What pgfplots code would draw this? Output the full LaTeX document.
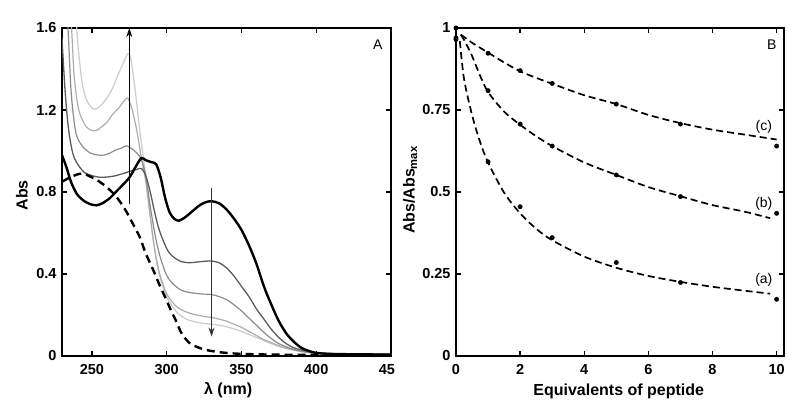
\documentclass[border=0pt]{standalone}
\usepackage{fontspec}
\setmainfont{Liberation Sans}
\usepackage{pgfplots}
\pgfplotsset{compat=1.18}
\usetikzlibrary{arrows.meta}
\definecolor{gA}{gray}{0.36}
\definecolor{gB}{gray}{0.55}
\definecolor{gC}{gray}{0.68}
\definecolor{gD}{gray}{0.80}
\begin{document}
\begin{tikzpicture}
\path (0pt,0pt) rectangle (800pt,417pt);
\pgfplotsset{
  myaxis/.style={
    scale only axis,
    axis line style={line width=1.9pt},
    tick align=inside, major tick length=5pt,
    tick style={line width=1.3pt, black},
    /pgf/number format/assume math mode=true,
    ticklabel style={font=\bfseries\fontsize{14.5}{15}\selectfont},
    xticklabel style={yshift=-5pt},
    yticklabel style={xshift=-2pt},
    label style={font=\bfseries\fontsize{16}{17}\selectfont},
  }
}
\begin{axis}[myaxis, at={(62pt,61pt)}, anchor=south west, width=329pt, height=328pt,
  xmin=230, xmax=450, ymin=0, ymax=1.6,
  xtick={250,300,350,400,450}, xticklabels={250,300,350,400,45\phantom{0}},
  ytick={0,0.4,0.8,1.2,1.6}, yticklabels={0,0.4,0.8,1.2,1.6},
  xlabel={λ (nm)}, ylabel={Abs},
  xlabel style={at={(axis description cs:0.505,-0.104)}, anchor=center},
  ylabel style={at={(axis description cs:-0.1216,0.49)}, anchor=center},
  clip=true]
% lightest gray
\addplot[gD, line width=1.2pt, smooth] coordinates {
(237,2.0) (239.8,1.6) (242,1.42) (244,1.31) (247,1.24) (251,1.205) (254,1.21) (257,1.23) (261,1.27) (264,1.31) (268,1.38) (271,1.43) (274,1.475) (276,1.45) (278,1.35) (280,1.23) (282,1.10) (284,0.99) (287,0.82) (290,0.62) (293,0.47) (296,0.37) (300,0.29) (304,0.24) (308,0.205) (313,0.18) (318,0.168) (324,0.16) (330,0.155) (335,0.15) (340,0.143) (345,0.132) (350,0.12) (355,0.105) (360,0.09) (365,0.075) (370,0.06) (375,0.047) (380,0.036) (385,0.028) (390,0.021) (395,0.016) (400,0.013) (420,0.01) (450,0.008)};
% light gray
\addplot[gC, line width=1.2pt, smooth] coordinates {
(234,1.9) (236.4,1.6) (238,1.38) (240,1.25) (242,1.18) (246,1.12) (250,1.10) (253,1.10) (256,1.115) (260,1.14) (264,1.18) (268,1.21) (271,1.24) (274,1.257) (277,1.2) (280,1.10) (283,0.97) (286,0.85) (289,0.68) (292,0.52) (295,0.41) (299,0.32) (302,0.28) (306,0.245) (310,0.225) (315,0.21) (320,0.2) (325,0.193) (330,0.188) (335,0.18) (340,0.17) (345,0.155) (350,0.14) (355,0.12) (360,0.10) (365,0.08) (370,0.065) (375,0.05) (380,0.038) (385,0.03) (390,0.022) (395,0.017) (400,0.013) (420,0.01) (450,0.008)};
% medium gray
\addplot[gB, line width=1.2pt, smooth] coordinates {
(232,1.85) (234,1.6) (236,1.3) (238,1.15) (240,1.07) (244,1.02) (249,0.99) (254,0.98) (258,0.98) (262,0.99) (266,1.005) (270,1.015) (273,1.025) (276,1.015) (280,0.99) (283,0.96) (286,0.88) (289,0.73) (292,0.60) (295,0.50) (299,0.41) (302,0.37) (306,0.34) (310,0.32) (315,0.31) (320,0.305) (325,0.302) (330,0.30) (335,0.29) (340,0.275) (345,0.25) (350,0.22) (355,0.185) (360,0.15) (365,0.115) (370,0.085) (375,0.06) (380,0.045) (385,0.032) (390,0.024) (395,0.018) (400,0.014) (420,0.01) (450,0.008)};
% dark gray
\addplot[gA, line width=1.3pt, smooth] coordinates {
(230,1.55) (232,1.30) (234,1.13) (236,1.03) (238,0.97) (241,0.93) (245,0.895) (250,0.88) (255,0.872) (260,0.873) (265,0.878) (270,0.888) (275,0.90) (280,0.91) (283,0.915) (286,0.88) (289,0.80) (292,0.70) (295,0.615) (299,0.54) (302,0.50) (306,0.475) (310,0.46) (315,0.455) (320,0.458) (325,0.462) (330,0.463) (335,0.455) (340,0.43) (345,0.39) (350,0.34) (355,0.29) (360,0.23) (365,0.18) (370,0.13) (375,0.09) (380,0.06) (385,0.04) (390,0.03) (395,0.022) (400,0.015) (420,0.01) (450,0.008)};
% thick black
\addplot[black, line width=2.4pt, smooth] coordinates {
(230,0.98) (233,0.92) (236,0.85) (240,0.79) (245,0.755) (250,0.738) (253,0.735) (257,0.745) (262,0.77) (266,0.80) (270,0.83) (275,0.87) (279,0.92) (283,0.965) (286,0.955) (290,0.945) (293,0.935) (296,0.87) (299,0.77) (302,0.70) (305,0.67) (308,0.66) (312,0.675) (317,0.705) (322,0.735) (326,0.75) (330,0.755) (335,0.745) (340,0.715) (345,0.67) (350,0.615) (355,0.54) (360,0.45) (365,0.34) (370,0.25) (375,0.17) (380,0.11) (385,0.07) (390,0.04) (395,0.025) (400,0.015) (410,0.01) (430,0.008) (450,0.007)};
% dashed black
\addplot[black, line width=2.4pt, dash pattern=on 8pt off 5pt, smooth] coordinates {
(230,0.85) (235,0.87) (240,0.885) (244,0.89) (249,0.875) (253,0.86) (258,0.835) (262,0.81) (266,0.78) (270,0.74) (273,0.705) (277,0.65) (282,0.58) (286,0.50) (291,0.42) (295,0.35) (300,0.27) (303,0.22) (306,0.175) (310,0.11) (315,0.065) (320,0.045) (326,0.03) (333,0.021) (340,0.015) (351,0.01) (370,0.007) (400,0.005) (450,0.004)};
% arrows
\addplot[black, line width=1.4pt, -{Stealth[length=9pt,width=6pt]}] coordinates {(275,0.74) (275,1.6)};
\addplot[black!80, line width=1pt, -{Stealth[length=9pt,width=6pt]}] coordinates {(330,0.82) (330,0.095)};
\node[font=\fontsize{14}{14}\selectfont] at (axis description cs:0.96,0.948) {A};
\end{axis}

\begin{axis}[myaxis, at={(456pt,61pt)}, anchor=south west, width=328pt, height=328pt,
  xmin=0, xmax=10.23, ymin=0, ymax=1,
  xtick={0,2,4,6,8,10},
  ytick={0,0.25,0.5,0.75,1}, yticklabels={0,0.25,0.5,0.75,1},
  xlabel={Equivalents of peptide}, ylabel={Abs/Abs\textsubscript{max}},
  xlabel style={at={(axis description cs:0.496,-0.109)}, anchor=center},
  ylabel style={at={(axis description cs:-0.14,0.506)}, anchor=center},
  clip=false]
\addplot[black, line width=1.7pt, dash pattern=on 7pt off 4pt, smooth] coordinates {
(0.12,0.96) (0.25,0.845) (0.5,0.735) (0.75,0.653) (1,0.59) (1.5,0.498) (2,0.435) (2.5,0.388) (3,0.353) (4,0.303) (5,0.269) (6,0.244) (7,0.226) (8,0.211) (9,0.199) (9.8,0.19)};
\addplot[black, line width=1.7pt, dash pattern=on 7pt off 4pt, smooth] coordinates {
(0.15,0.98) (0.3,0.955) (0.5,0.915) (0.75,0.855) (1,0.805) (1.5,0.745) (2,0.705) (2.5,0.67) (3,0.64) (4,0.59) (5,0.552) (6,0.515) (7,0.487) (8,0.46) (9,0.44) (9.8,0.42)};
\addplot[black, line width=1.7pt, dash pattern=on 7pt off 4pt, smooth] coordinates {
(0.15,0.98) (0.5,0.955) (1,0.925) (1.5,0.895) (2,0.868) (2.5,0.848) (3,0.83) (4,0.795) (5,0.768) (6,0.735) (7,0.71) (8,0.69) (9,0.675) (10,0.66)};
\addplot[only marks, mark=*, mark size=2.2pt, black] coordinates {
(0,0.965) (1,0.592) (2,0.455) (3,0.361) (5,0.285) (7,0.224) (10,0.173)};
\addplot[only marks, mark=*, mark size=2.2pt, black] coordinates {
(0,0.97) (1,0.809) (2,0.707) (3,0.640) (5,0.552) (7,0.486) (10,0.435)};
\addplot[only marks, mark=*, mark size=2.2pt, black] coordinates {
(0,1.0) (1,0.923) (2,0.870) (3,0.831) (5,0.768) (7,0.707) (10,0.640)};
\node[font=\fontsize{14}{14}\selectfont] at (axis cs:9.6,0.232) {(a)};
\node[font=\fontsize{14}{14}\selectfont] at (axis cs:9.6,0.463) {(b)};
\node[font=\fontsize{14}{14}\selectfont] at (axis cs:9.6,0.699) {(c)};
\node[font=\fontsize{14}{14}\selectfont] at (axis description cs:0.963,0.948) {B};
\end{axis}
\end{tikzpicture}
\end{document}
